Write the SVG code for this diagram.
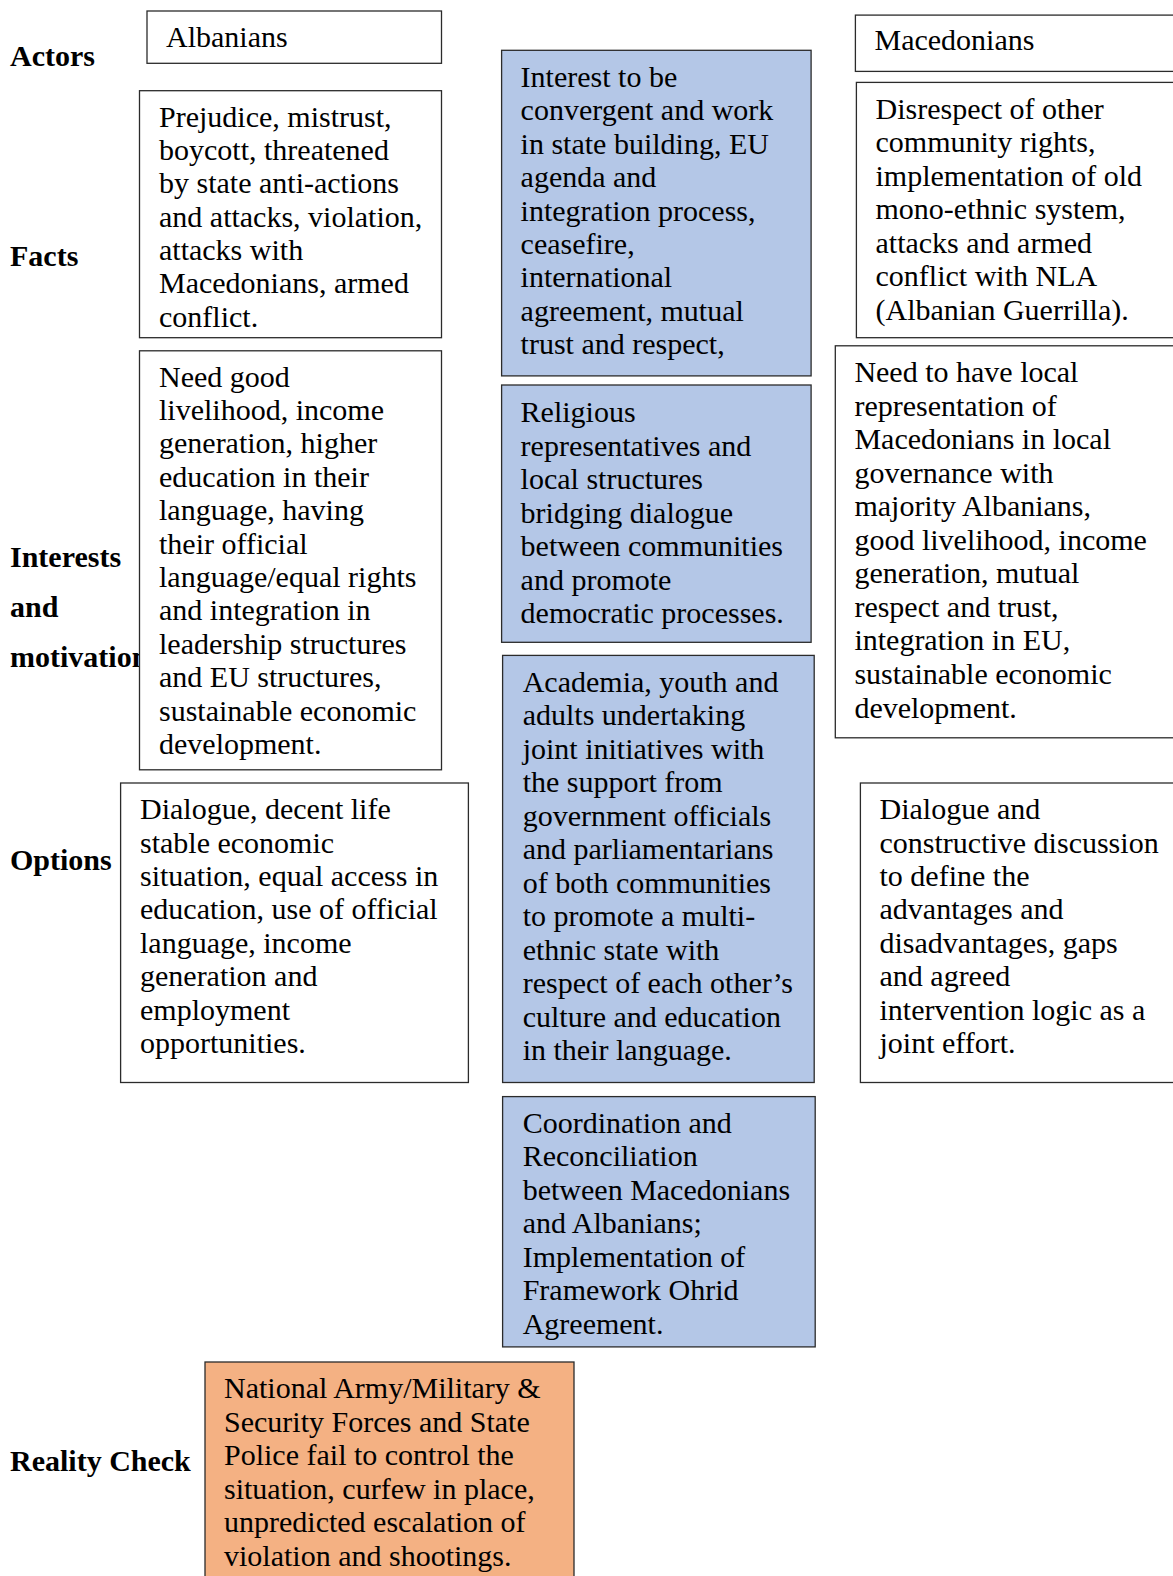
<svg xmlns="http://www.w3.org/2000/svg" width="1173" height="1576" viewBox="0 0 1173 1576">
<style>
  .bg{fill:#ffffff}
  .box{fill:#ffffff;stroke:#2b2b2b;stroke-width:1.3}
  .blue{fill:#b4c7e7;stroke:#2b2b2b;stroke-width:1.3}
  .orange{fill:#f4b183;stroke:#2b2b2b;stroke-width:1.3}
  .t{font-family:"Liberation Serif","Times New Roman",serif;font-size:30px;fill:#000}
  .lbl{font-family:"Liberation Serif","Times New Roman",serif;font-size:30px;font-weight:bold;fill:#000}
</style>
<rect class="bg" x="0" y="0" width="1173" height="1576"/>

<g id="row-labels">
  <text class="lbl" x="10" y="66">Actors</text>
  <text class="lbl" x="10" y="266">Facts</text>
  <text class="lbl" x="10" y="567">Interests</text>
  <text class="lbl" x="10" y="617">and</text>
  <text class="lbl" x="10" y="667">motivation</text>
  <text class="lbl" x="10" y="870">Options</text>
  <text class="lbl" x="10" y="1471">Reality Check</text>
</g>

<g id="connectors"></g>

<g id="albanians">
  <rect class="box" x="147" y="11" width="294.5" height="52.3"/>
  <text class="t" x="166" y="46.5">Albanians</text>
</g>

<g id="albanians-facts">
  <rect class="box" x="139.5" y="90.7" width="302" height="247"/>
  <text class="t">
    <tspan x="159" y="126.7">Prejudice, mistrust,</tspan>
    <tspan x="159" y="160">boycott, threatened</tspan>
    <tspan x="159" y="193.3">by state anti-actions</tspan>
    <tspan x="159" y="226.7">and attacks, violation,</tspan>
    <tspan x="159" y="260">attacks with</tspan>
    <tspan x="159" y="293.3">Macedonians, armed</tspan>
    <tspan x="159" y="326.7">conflict.</tspan>
  </text>
</g>

<g id="albanians-interests">
  <rect class="box" x="139.5" y="350.8" width="302" height="419"/>
  <text class="t">
    <tspan x="159" y="386.5">Need good</tspan>
    <tspan x="159" y="420">livelihood, income</tspan>
    <tspan x="159" y="453.4">generation, higher</tspan>
    <tspan x="159" y="486.8">education in their</tspan>
    <tspan x="159" y="520.2">language, having</tspan>
    <tspan x="159" y="553.6">their official</tspan>
    <tspan x="159" y="587">language/equal rights</tspan>
    <tspan x="159" y="620.4">and integration in</tspan>
    <tspan x="159" y="653.8">leadership structures</tspan>
    <tspan x="159" y="687.2">and EU structures,</tspan>
    <tspan x="159" y="720.6">sustainable economic</tspan>
    <tspan x="159" y="754">development.</tspan>
  </text>
</g>

<g id="albanians-options">
  <rect class="box" x="120.6" y="783" width="347.8" height="299.5"/>
  <text class="t">
    <tspan x="140" y="819">Dialogue, decent life</tspan>
    <tspan x="140" y="852.5">stable economic</tspan>
    <tspan x="140" y="886">situation, equal access in</tspan>
    <tspan x="140" y="919.4">education, use of official</tspan>
    <tspan x="140" y="952.8">language, income</tspan>
    <tspan x="140" y="986.2">generation and</tspan>
    <tspan x="140" y="1019.7">employment</tspan>
    <tspan x="140" y="1053.2">opportunities.</tspan>
  </text>
</g>

<g id="common-interest">
  <rect class="blue" x="501.6" y="50.3" width="309.5" height="325.6"/>
  <text class="t">
    <tspan x="520.6" y="87">Interest to be</tspan>
    <tspan x="520.6" y="120.4">convergent and work</tspan>
    <tspan x="520.6" y="153.8">in state building, EU</tspan>
    <tspan x="520.6" y="187.2">agenda and</tspan>
    <tspan x="520.6" y="220.6">integration process,</tspan>
    <tspan x="520.6" y="254">ceasefire,</tspan>
    <tspan x="520.6" y="287.4">international</tspan>
    <tspan x="520.6" y="320.8">agreement, mutual</tspan>
    <tspan x="520.6" y="354.2">trust and respect,</tspan>
  </text>
</g>

<g id="religious-representatives">
  <rect class="blue" x="501.6" y="385" width="309.5" height="257.3"/>
  <text class="t">
    <tspan x="520.6" y="422">Religious</tspan>
    <tspan x="520.6" y="455.5">representatives and</tspan>
    <tspan x="520.6" y="489">local structures</tspan>
    <tspan x="520.6" y="522.5">bridging dialogue</tspan>
    <tspan x="520.6" y="556">between communities</tspan>
    <tspan x="520.6" y="589.5">and promote</tspan>
    <tspan x="520.6" y="623">democratic processes.</tspan>
  </text>
</g>

<g id="joint-initiatives">
  <rect class="blue" x="502.6" y="655.4" width="311.6" height="427.1"/>
  <text class="t">
    <tspan x="522.7" y="691.5">Academia, youth and</tspan>
    <tspan x="522.7" y="725">adults undertaking</tspan>
    <tspan x="522.7" y="758.6">joint initiatives with</tspan>
    <tspan x="522.7" y="792.1">the support from</tspan>
    <tspan x="522.7" y="825.6">government officials</tspan>
    <tspan x="522.7" y="859.2">and parliamentarians</tspan>
    <tspan x="522.7" y="892.7">of both communities</tspan>
    <tspan x="522.7" y="926.2">to promote a multi-</tspan>
    <tspan x="522.7" y="959.7">ethnic state with</tspan>
    <tspan x="522.7" y="993.3">respect of each other’s</tspan>
    <tspan x="522.7" y="1026.8">culture and education</tspan>
    <tspan x="522.7" y="1060.3">in their language.</tspan>
  </text>
</g>

<g id="coordination-reconciliation">
  <rect class="blue" x="502.6" y="1096.6" width="312.6" height="250.3"/>
  <text class="t">
    <tspan x="522.7" y="1132.7">Coordination and</tspan>
    <tspan x="522.7" y="1166.2">Reconciliation</tspan>
    <tspan x="522.7" y="1199.7">between Macedonians</tspan>
    <tspan x="522.7" y="1233.2">and Albanians;</tspan>
    <tspan x="522.7" y="1266.7">Implementation of</tspan>
    <tspan x="522.7" y="1300.2">Framework Ohrid</tspan>
    <tspan x="522.7" y="1333.7">Agreement.</tspan>
  </text>
</g>

<g id="macedonians">
  <rect class="box" x="855.4" y="15.1" width="330" height="56.3"/>
  <text class="t" x="874.5" y="50.3">Macedonians</text>
</g>

<g id="macedonians-facts">
  <rect class="box" x="856.4" y="82.4" width="330" height="255.3"/>
  <text class="t">
    <tspan x="875.5" y="118.6">Disrespect of other</tspan>
    <tspan x="875.5" y="152.1">community rights,</tspan>
    <tspan x="875.5" y="185.6">implementation of old</tspan>
    <tspan x="875.5" y="219.1">mono-ethnic system,</tspan>
    <tspan x="875.5" y="252.6">attacks and armed</tspan>
    <tspan x="875.5" y="286.1">conflict with NLA</tspan>
    <tspan x="875.5" y="319.6">(Albanian Guerrilla).</tspan>
  </text>
</g>

<g id="macedonians-interests">
  <rect class="box" x="835.3" y="345.8" width="350" height="392"/>
  <text class="t">
    <tspan x="854.4" y="382">Need to have local</tspan>
    <tspan x="854.4" y="415.6">representation of</tspan>
    <tspan x="854.4" y="449.1">Macedonians in local</tspan>
    <tspan x="854.4" y="482.7">governance with</tspan>
    <tspan x="854.4" y="516.2">majority Albanians,</tspan>
    <tspan x="854.4" y="549.8">good livelihood, income</tspan>
    <tspan x="854.4" y="583.3">generation, mutual</tspan>
    <tspan x="854.4" y="616.9">respect and trust,</tspan>
    <tspan x="854.4" y="650.4">integration in EU,</tspan>
    <tspan x="854.4" y="684">sustainable economic</tspan>
    <tspan x="854.4" y="717.5">development.</tspan>
  </text>
</g>

<g id="macedonians-options">
  <rect class="box" x="860.4" y="783" width="330" height="299.5"/>
  <text class="t">
    <tspan x="879.5" y="819">Dialogue and</tspan>
    <tspan x="879.5" y="852.5">constructive discussion</tspan>
    <tspan x="879.5" y="886">to define the</tspan>
    <tspan x="879.5" y="919.4">advantages and</tspan>
    <tspan x="879.5" y="952.8">disadvantages, gaps</tspan>
    <tspan x="879.5" y="986.2">and agreed</tspan>
    <tspan x="879.5" y="1019.7">intervention logic as a</tspan>
    <tspan x="879.5" y="1053.2">joint effort.</tspan>
  </text>
</g>

<g id="reality-check">
  <rect class="orange" x="205" y="1362" width="369" height="230"/>
  <text class="t">
    <tspan x="224" y="1398">National Army/Military &amp;</tspan>
    <tspan x="224" y="1431.5">Security Forces and State</tspan>
    <tspan x="224" y="1465">Police fail to control the</tspan>
    <tspan x="224" y="1498.5">situation, curfew in place,</tspan>
    <tspan x="224" y="1532">unpredicted escalation of</tspan>
    <tspan x="224" y="1565.5">violation and shootings.</tspan>
  </text>
</g>
</svg>
